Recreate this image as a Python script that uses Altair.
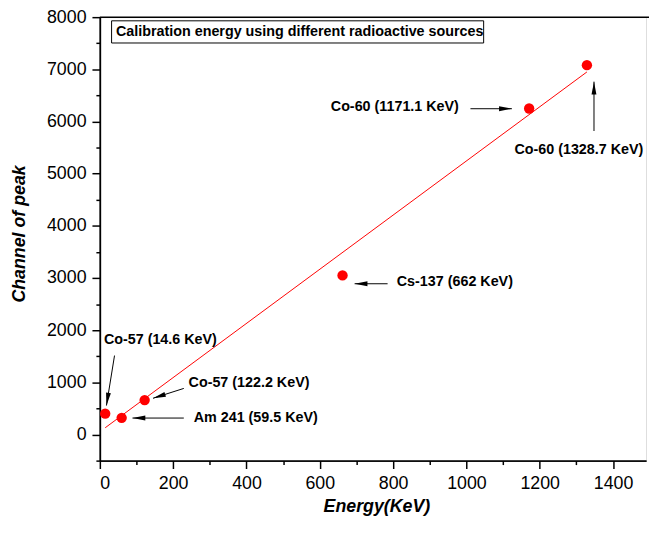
import altair as alt
import pandas as pd

# measured data
energy = [14.6, 59.5, 122.2, 662.0, 1171.1, 1328.7]
channel = [400, 320, 660, 3050, 6250, 7080]

# fitted line end points
fit_x = [14.6, 1328.7]
fit_y = [130, 6950]

# annotations
labels = ["Co-57 (14.6 KeV)", "Co-57 (122.2 KeV)", "Am 241 (59.5 KeV)",
          "Cs-137 (662 KeV)", "Co-60 (1171.1 KeV)", "Co-60 (1328.7 KeV)"]
label_x = [11, 242, 256, 810, 630, 1131]
label_y = [1811, 978, 316, 2922, 6277, 5458]
arrow_x1 = [40, 229, 229, 785, 1011, 1348]
arrow_y1 = [1514, 884, 316, 2890, 6245, 5818]
arrow_x2 = [18, 145, 89, 695, 1124, 1348]
arrow_y2 = [556, 695, 316, 2890, 6245, 6764]
arrow_angle = [189, 252, 270, 270, 90, 0]

box_title = ["Calibration energy using different radioactive sources"]
box_x = [32, 1047]
box_y = [7505, 7930]
box_text_x = [44]
box_text_y = [7706]

x_major = list(range(0, 1500, 200))
x_minor = list(range(100, 1500, 200))
y_major = list(range(0, 9000, 1000))
y_minor = list(range(-500, 8000, 1000))

FONT = "Liberation Sans"
W, H = 553, 449

pts = pd.DataFrame({"Energy": energy, "Channel": channel})
fit = pd.DataFrame({"Energy": fit_x, "Channel": fit_y})
ann = pd.DataFrame({"label": labels, "lx": label_x, "ly": label_y,
                    "x1": arrow_x1, "y1": arrow_y1, "x2": arrow_x2, "y2": arrow_y2,
                    "angle": arrow_angle})
box = pd.DataFrame({"t": box_title, "bx1": [box_x[0]], "bx2": [box_x[1]],
                    "by1": [box_y[0]], "by2": [box_y[1]],
                    "tx": box_text_x, "ty": box_text_y})

xscale = alt.Scale(domain=[0, 1490], nice=False, zero=False)
yscale = alt.Scale(domain=[-500, 8000], nice=False, zero=False)

common = dict(grid=False, domainColor="black", domainWidth=1.5,
              tickColor="black", tickWidth=1.5)

xaxis = alt.Axis(
    title="Energy(KeV)", values=x_major, format="d", orient="bottom", tickSize=8,
    labelFont=FONT, labelFontSize=18, labelColor="black", labelPadding=6,
    titleFont=FONT, titleFontSize=18, titleFontWeight="bold", titleFontStyle="italic",
    titleColor="black", titleX=280, titleY=52, titleBaseline="alphabetic", titleAlign="center",
    **common,
)
yaxis = alt.Axis(
    title="Channel of peak", values=y_major, format="d", orient="left", tickSize=8,
    labelFont=FONT, labelFontSize=18, labelColor="black", labelPadding=6,
    titleFont=FONT, titleFontSize=18, titleFontWeight="bold", titleFontStyle="italic",
    titleColor="black", titleX=-76, titleY=219, titleAngle=270,
    titleBaseline="alphabetic", titleAlign="center",
    **common,
)
xminor = alt.Axis(title="", values=x_minor, orient="bottom", tickSize=4, labels=False,
                  **common)
yminor = alt.Axis(title="", values=y_minor, orient="left", tickSize=4, labels=False,
                  **common)

line = alt.Chart(fit).mark_line(color="red", strokeWidth=1).encode(
    x=alt.X("Energy:Q", scale=xscale, axis=xaxis),
    y=alt.Y("Channel:Q", scale=yscale, axis=yaxis),
)
minor = alt.Chart(fit).mark_point(opacity=0).encode(
    x=alt.X("Energy:Q", scale=xscale, axis=xminor),
    y=alt.Y("Channel:Q", scale=yscale, axis=yminor),
)
points = alt.Chart(pts).mark_circle(color="red", size=110, opacity=1).encode(
    x=alt.X("Energy:Q", scale=xscale, axis=None),
    y=alt.Y("Channel:Q", scale=yscale, axis=None),
)
shafts = alt.Chart(ann).mark_rule(color="black", strokeWidth=1).encode(
    x=alt.X("x1:Q", scale=xscale, axis=None), y=alt.Y("y1:Q", scale=yscale, axis=None),
    x2="x2:Q", y2="y2:Q",
)
heads = alt.Chart(ann).mark_point(
    shape="M0,0 L0.38,2 L-0.38,2 Z", filled=True, color="black", size=169, opacity=1,
    strokeWidth=0,
).encode(
    x=alt.X("x2:Q", scale=xscale, axis=None), y=alt.Y("y2:Q", scale=yscale, axis=None),
    angle=alt.Angle("angle:Q", scale=None),
)
texts = alt.Chart(ann).mark_text(
    align="left", baseline="middle", font=FONT, fontSize=14.5, fontWeight="bold", color="black",
).encode(
    x=alt.X("lx:Q", scale=xscale, axis=None), y=alt.Y("ly:Q", scale=yscale, axis=None),
    text="label:N",
)
boxrect = alt.Chart(box).mark_rect(fill="white", stroke="black", strokeWidth=1).encode(
    x=alt.X("bx1:Q", scale=xscale, axis=None), x2="bx2:Q",
    y=alt.Y("by1:Q", scale=yscale, axis=None), y2="by2:Q",
)
boxtext = alt.Chart(box).mark_text(
    align="left", baseline="middle", font=FONT, fontSize=14.5, fontWeight="bold", color="black",
).encode(
    x=alt.X("tx:Q", scale=xscale, axis=None), y=alt.Y("ty:Q", scale=yscale, axis=None),
    text="t:N",
)
topline = alt.Chart(box).mark_rule(color="black", strokeWidth=1.5).encode(
    x=alt.value(0), x2=alt.value(W + 3), y=alt.value(0),
)

chart = alt.layer(line, minor, points, shafts, heads, texts, boxrect, boxtext, topline).resolve_axis(
    x="independent", y="independent"
).properties(
    width=W, height=H,
    autosize=alt.AutoSizeParams(type="none"),
    padding={"left": 93, "top": 6, "right": 3, "bottom": 70},
).configure_view(stroke=None).configure(background="white")

chart.save("out.html", embed_options={"renderer": "svg", "actions": False})
